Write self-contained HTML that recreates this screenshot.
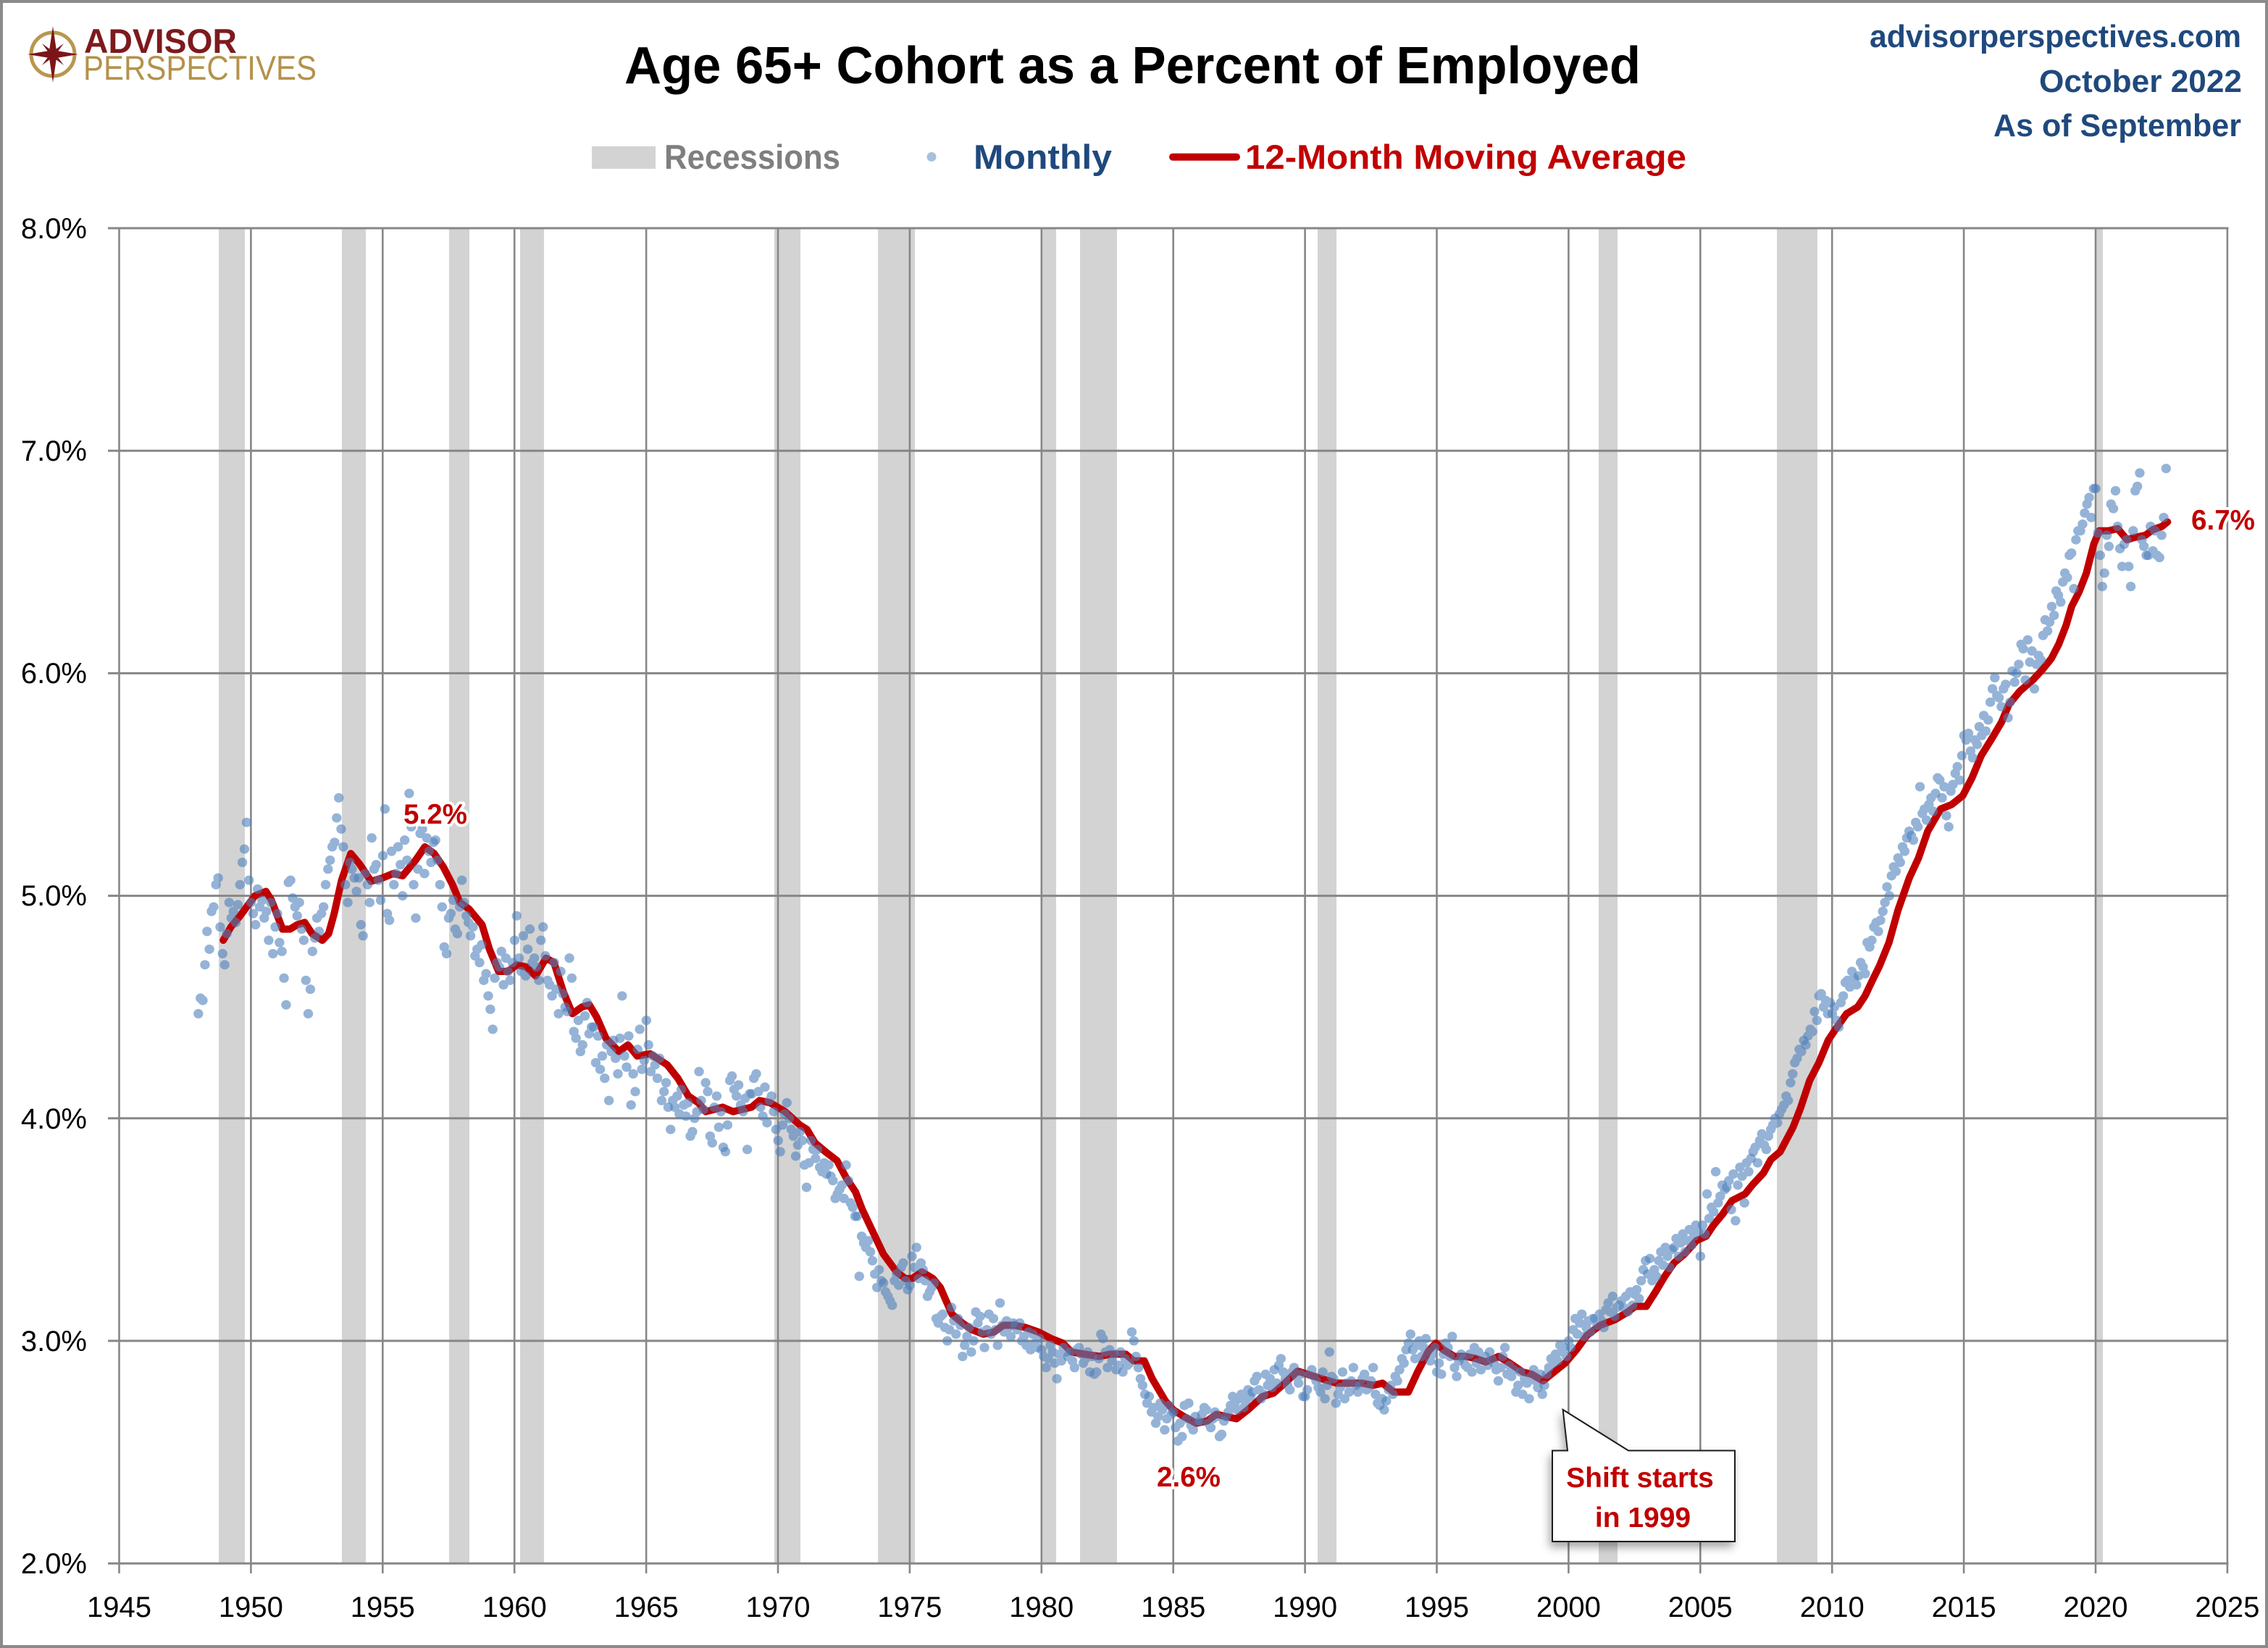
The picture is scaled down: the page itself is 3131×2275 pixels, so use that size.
<!DOCTYPE html>
<html>
<head>
<meta charset="utf-8">
<style>
  html, body { margin: 0; padding: 0; background: #ffffff; }
  svg { display: block; }
  text { font-family: "Liberation Sans", "DejaVu Sans", sans-serif; }
  .d { fill: none; stroke: #4f81bd; stroke-opacity: 0.6; stroke-width: 13; stroke-linecap: round; vector-effect: non-scaling-stroke; }
</style>
</head>
<body>
<svg width="3131" height="2275" viewBox="0 0 3131 2275">
  <defs>
    <filter id="shadow" x="-20%" y="-20%" width="140%" height="150%">
      <feDropShadow dx="-3" dy="7" stdDeviation="6" flood-color="#000" flood-opacity="0.35"/>
    </filter>
  </defs>

  <rect x="0" y="0" width="3131" height="2275" fill="#ffffff"/>
  <rect x="2" y="2" width="3127" height="2271" fill="none" stroke="#8a8a8a" stroke-width="4"/>

  <!-- logo -->
  <g>
    <circle cx="73" cy="75" r="30" fill="none" stroke="#b8974e" stroke-width="5"/>
    <polygon points="73,36 78,70 108,75 78,80 73,114 68,80 38,75 68,70" fill="#7b1518"/>
    <polygon points="88,60 77,75 88,90 73,79 58,90 69,75 58,60 73,71" fill="#7b1518"/>
    <circle cx="73" cy="75" r="4" fill="#7b1518"/>
    <text x="116" y="73" font-size="47" font-weight="bold" fill="#7d1a1d" textLength="211" lengthAdjust="spacingAndGlyphs">ADVISOR</text>
    <text x="115" y="110" font-size="47" fill="#b4924b" textLength="322" lengthAdjust="spacingAndGlyphs">PERSPECTIVES</text>
  </g>

  <text x="862" y="115" font-size="72" font-weight="bold" fill="#000000" textLength="1403" lengthAdjust="spacingAndGlyphs">Age 65+ Cohort as a Percent of Employed</text>

  <text x="2581" y="65" font-size="44" font-weight="bold" fill="#1f497d" textLength="513" lengthAdjust="spacingAndGlyphs">advisorperspectives.com</text>
  <text x="2815" y="127" font-size="44" font-weight="bold" fill="#1f497d" textLength="280" lengthAdjust="spacingAndGlyphs">October 2022</text>
  <text x="2752" y="188" font-size="44" font-weight="bold" fill="#1f497d" textLength="342" lengthAdjust="spacingAndGlyphs">As of September</text>

  <!-- legend -->
  <rect x="817" y="202" width="88" height="31" fill="#d3d3d3"/>
  <text x="917" y="233" font-size="47" font-weight="bold" fill="#7f7f7f" textLength="243" lengthAdjust="spacingAndGlyphs">Recessions</text>
  <circle cx="1286" cy="216.5" r="6.5" fill="#4f81bd" fill-opacity="0.5"/>
  <text x="1344" y="233" font-size="47" font-weight="bold" fill="#1f497d" textLength="191" lengthAdjust="spacingAndGlyphs">Monthly</text>
  <line x1="1619" y1="216.7" x2="1707" y2="216.7" stroke="#c00000" stroke-width="10" stroke-linecap="round"/>
  <text x="1719" y="233" font-size="47" font-weight="bold" fill="#c00000" textLength="609" lengthAdjust="spacingAndGlyphs">12-Month Moving Average</text>

  <!-- recession bands -->
  <g fill="#d3d3d3">
    <rect x="302" y="315" width="36" height="1843"/>
    <rect x="472" y="315" width="33" height="1843"/>
    <rect x="620" y="315" width="28" height="1843"/>
    <rect x="718" y="315" width="33" height="1843"/>
    <rect x="1069" y="315" width="36" height="1843"/>
    <rect x="1212" y="315" width="51" height="1843"/>
    <rect x="1437.7" y="315" width="20.3" height="1843"/>
    <rect x="1491" y="315" width="51" height="1843"/>
    <rect x="1819" y="315" width="26" height="1843"/>
    <rect x="2207" y="315" width="26" height="1843"/>
    <rect x="2453" y="315" width="56" height="1843"/>
    <rect x="2894" y="315" width="9" height="1843"/>
  </g>

  <!-- gridlines -->
  <g stroke="#878787" stroke-width="3">
    <line x1="149" y1="315" x2="3076.5" y2="315"/>
    <line x1="149" y1="622.2" x2="3076.5" y2="622.2"/>
    <line x1="149" y1="929.4" x2="3076.5" y2="929.4"/>
    <line x1="149" y1="1236.6" x2="3076.5" y2="1236.6"/>
    <line x1="149" y1="1543.8" x2="3076.5" y2="1543.8"/>
    <line x1="149" y1="1851" x2="3076.5" y2="1851"/>
    <line x1="149" y1="2158.2" x2="3076.5" y2="2158.2"/>
  </g>
  <g stroke="#878787" stroke-width="2.6">
    <line x1="164.5" y1="315" x2="164.5" y2="2172"/>
    <line x1="346.4" y1="315" x2="346.4" y2="2172"/>
    <line x1="528.3" y1="315" x2="528.3" y2="2172"/>
    <line x1="710.2" y1="315" x2="710.2" y2="2172"/>
    <line x1="892.1" y1="315" x2="892.1" y2="2172"/>
    <line x1="1074" y1="315" x2="1074" y2="2172"/>
    <line x1="1255.9" y1="315" x2="1255.9" y2="2172"/>
    <line x1="1437.8" y1="315" x2="1437.8" y2="2172"/>
    <line x1="1619.7" y1="315" x2="1619.7" y2="2172"/>
    <line x1="1801.6" y1="315" x2="1801.6" y2="2172"/>
    <line x1="1983.5" y1="315" x2="1983.5" y2="2172"/>
    <line x1="2165.4" y1="315" x2="2165.4" y2="2172"/>
    <line x1="2347.3" y1="315" x2="2347.3" y2="2172"/>
    <line x1="2529.2" y1="315" x2="2529.2" y2="2172"/>
    <line x1="2711.1" y1="315" x2="2711.1" y2="2172"/>
    <line x1="2893" y1="315" x2="2893" y2="2172"/>
    <line x1="3074.9" y1="315" x2="3074.9" y2="2172"/>
  </g>

  <g font-size="40" fill="#000000" text-anchor="end">
    <text x="120" y="329">8.0%</text>
    <text x="120" y="636">7.0%</text>
    <text x="120" y="943">6.0%</text>
    <text x="120" y="1250">5.0%</text>
    <text x="120" y="1558">4.0%</text>
    <text x="120" y="1865">3.0%</text>
    <text x="120" y="2172">2.0%</text>
  </g>

  <g font-size="40" fill="#000000" text-anchor="middle">
    <text x="164.5" y="2232">1945</text>
    <text x="346.4" y="2232">1950</text>
    <text x="528.3" y="2232">1955</text>
    <text x="710.2" y="2232">1960</text>
    <text x="892.1" y="2232">1965</text>
    <text x="1074" y="2232">1970</text>
    <text x="1255.9" y="2232">1975</text>
    <text x="1437.8" y="2232">1980</text>
    <text x="1619.7" y="2232">1985</text>
    <text x="1801.6" y="2232">1990</text>
    <text x="1983.5" y="2232">1995</text>
    <text x="2165.4" y="2232">2000</text>
    <text x="2347.3" y="2232">2005</text>
    <text x="2529.2" y="2232">2010</text>
    <text x="2711.1" y="2232">2015</text>
    <text x="2893" y="2232">2020</text>
    <text x="3074.9" y="2232">2025</text>
  </g>

  <!-- data group: x = year, y = percent -->
  <g transform="matrix(36.38 0 0 -307.2 -70594.6 2772.6)">
    <polyline fill="none" stroke="#c00000" stroke-width="10" stroke-linejoin="round" stroke-linecap="round" vector-effect="non-scaling-stroke"
      points="1948.95,4.80 1949.24,4.86 1949.59,4.91 1950.15,5.00 1950.57,5.02 1950.78,4.98 1951.2,4.85 1951.48,4.85 1951.76,4.87 1952.04,4.88 1952.32,4.83 1952.71,4.80 1952.95,4.83 1953.16,4.92 1953.44,5.07 1953.79,5.19 1954.14,5.14 1954.56,5.065 1954.99,5.08 1955.4,5.10 1955.76,5.09 1956.25,5.16 1956.6,5.22 1956.95,5.19 1957.3,5.13 1957.65,5.05 1957.93,4.97 1958.28,4.94 1958.77,4.87 1959.05,4.76 1959.4,4.66 1959.75,4.66 1960.1,4.69 1960.45,4.68 1960.8,4.64 1961.2,4.72 1961.5,4.70 1961.85,4.57 1962.2,4.47 1962.56,4.50 1962.84,4.51 1963.12,4.455 1963.47,4.36 1963.96,4.30 1964.31,4.33 1964.66,4.28 1965.15,4.29 1965.8,4.24 1966.2,4.18 1966.6,4.10 1966.98,4.07 1967.26,4.03 1967.9,4.05 1968.3,4.03 1969.0,4.05 1969.3,4.08 1969.7,4.07 1970.27,4.03 1970.83,3.97 1971.1,3.95 1971.4,3.89 1971.8,3.85 1972.24,3.81 1972.6,3.73 1972.94,3.67 1973.2,3.59 1973.6,3.49 1974.0,3.39 1974.5,3.31 1974.83,3.28 1975.1,3.28 1975.46,3.31 1975.88,3.28 1976.16,3.24 1976.6,3.12 1977.0,3.08 1977.36,3.05 1977.8,3.03 1978.2,3.04 1978.55,3.07 1978.97,3.07 1979.4,3.06 1979.88,3.04 1980.37,3.01 1980.8,2.99 1981.14,2.95 1981.63,2.94 1982.2,2.93 1982.6,2.94 1983.2,2.94 1983.5,2.91 1983.9,2.91 1984.2,2.83 1984.7,2.73 1985.0,2.69 1985.4,2.66 1985.87,2.63 1986.29,2.64 1986.64,2.67 1986.99,2.66 1987.4,2.65 1987.83,2.69 1988.39,2.75 1988.8,2.765 1989.23,2.81 1989.72,2.864 1990.2,2.846 1990.63,2.83 1991.19,2.81 1991.75,2.81 1992.17,2.81 1992.59,2.80 1992.94,2.81 1993.36,2.77 1993.92,2.77 1994.27,2.86 1994.69,2.955 1994.97,2.99 1995.25,2.96 1995.67,2.93 1996.1,2.93 1996.5,2.92 1996.86,2.905 1997.35,2.93 1997.77,2.90 1998.26,2.86 1998.6,2.85 1999.03,2.82 1999.45,2.86 1999.87,2.90 2000.3,2.96 2000.7,3.025 2001.2,3.07 2001.76,3.095 2002.25,3.13 2002.53,3.155 2002.95,3.155 2003.3,3.22 2003.65,3.29 2004.0,3.35 2004.4,3.39 2004.85,3.45 2005.22,3.47 2005.5,3.52 2005.85,3.57 2006.2,3.63 2006.7,3.66 2006.97,3.70 2007.4,3.755 2007.68,3.815 2008.03,3.85 2008.52,3.96 2008.8,4.045 2009.15,4.17 2009.5,4.25 2009.85,4.35 2010.13,4.40 2010.55,4.47 2010.97,4.50 2011.25,4.55 2011.53,4.62 2011.8,4.685 2012.16,4.79 2012.5,4.935 2012.93,5.08 2013.28,5.17 2013.63,5.29 2014.12,5.39 2014.54,5.41 2014.96,5.45 2015.31,5.53 2015.66,5.63 2016.08,5.71 2016.43,5.78 2016.71,5.86 2017.13,5.92 2017.62,5.97 2017.97,6.015 2018.32,6.066 2018.6,6.13 2018.88,6.215 2019.09,6.30 2019.37,6.365 2019.65,6.45 2019.93,6.58 2020.14,6.64 2020.49,6.64 2020.84,6.65 2021.19,6.60 2021.47,6.61 2021.89,6.62 2022.17,6.645 2022.52,6.66 2022.73,6.68"/>

    <!-- monthly dots -->
    <path class="d" transform="translate(1948)" d="M0 4.47h.01M.08 4.54h.01M.17 4.53h.01M.25 4.69h.01M.33 4.84h.01M.42 4.76h.01M.5 4.93h.01M.58 4.95h.01M.67 5.05h.01M.75 5.08h.01M.83 4.86h.01M.92 4.74h.01"/>
    <path class="d" transform="translate(1949)" d="M0 4.69h.01M.08 4.83h.01M.17 4.97h.01M.25 4.90h.01M.33 4.93h.01M.42 4.88h.01M.5 4.96h.01M.58 5.05h.01M.67 5.15h.01M.75 5.21h.01M.83 5.33h.01M.92 5.07h.01"/>
    <path class="d" transform="translate(1950)" d="M0 4.97h.01M.08 4.92h.01M.17 4.87h.01M.25 5.03h.01M.33 4.95h.01M.42 4.98h.01M.5 4.90h.01M.58 4.93h.01M.67 4.80h.01M.75 4.97h.01M.83 4.74h.01M.92 4.86h.01"/>
    <path class="d" transform="translate(1951)" d="M0 4.92h.01M.08 4.79h.01M.17 4.75h.01M.25 4.63h.01M.33 4.51h.01M.42 5.06h.01M.5 5.07h.01M.58 4.99h.01M.67 4.95h.01M.75 4.91h.01M.83 4.97h.01M.92 4.85h.01"/>
    <path class="d" transform="translate(1952)" d="M0 4.80h.01M.08 4.62h.01M.17 4.47h.01M.25 4.58h.01M.33 4.75h.01M.42 4.81h.01M.5 4.90h.01M.58 4.84h.01M.67 4.92h.01M.75 4.95h.01M.83 5.05h.01M.92 5.12h.01"/>
    <path class="d" transform="translate(1953)" d="M0 5.16h.01M.08 5.22h.01M.17 5.24h.01M.25 5.35h.01M.33 5.44h.01M.42 5.30h.01M.5 5.22h.01M.58 5.05h.01M.67 4.97h.01M.75 5.15h.01M.83 5.12h.01M.92 5.08h.01"/>
    <path class="d" transform="translate(1954)" d="M0 5.02h.01M.08 5.08h.01M.17 4.87h.01M.25 4.82h.01M.33 5.10h.01M.42 5.05h.01M.5 4.97h.01M.58 5.26h.01M.67 5.12h.01M.75 5.14h.01M.83 5.07h.01M.92 4.98h.01"/>
    <path class="d" transform="translate(1955)" d="M0 5.18h.01M.08 5.39h.01M.17 4.92h.01M.25 4.89h.01M.33 5.20h.01M.42 5.05h.01M.5 5.10h.01M.58 5.22h.01M.67 5.14h.01M.75 5.00h.01M.83 5.25h.01M.92 5.16h.01"/>
    <path class="d" transform="translate(1956)" d="M0 5.46h.01M.08 5.31h.01M.17 5.05h.01M.25 4.90h.01M.33 5.12h.01M.42 5.28h.01M.5 5.30h.01M.58 5.10h.01M.67 5.26h.01M.75 5.20h.01M.83 5.15h.01M.92 5.24h.01"/>
    <path class="d" transform="translate(1957)" d="M0 5.25h.01M.08 5.16h.01M.17 5.05h.01M.25 4.95h.01M.33 4.77h.01M.42 4.74h.01M.5 4.90h.01M.58 4.92h.01M.67 4.98h.01M.75 4.85h.01M.83 4.83h.01M.92 4.95h.01"/>
    <path class="d" transform="translate(1958)" d="M0 5.07h.01M.08 4.97h.01M.17 4.91h.01M.25 4.88h.01M.33 4.82h.01M.42 4.86h.01M.5 4.73h.01M.58 4.76h.01M.67 4.70h.01M.75 4.78h.01M.83 4.62h.01M.92 4.65h.01"/>
    <path class="d" transform="translate(1959)" d="M0 4.55h.01M.08 4.49h.01M.17 4.40h.01M.25 4.63h.01M.33 4.70h.01M.42 4.68h.01M.5 4.75h.01M.58 4.60h.01M.67 4.72h.01M.75 4.66h.01M.83 4.62h.01M.92 4.70h.01"/>
    <path class="d" transform="translate(1960)" d="M0 4.80h.01M.08 4.91h.01M.17 4.72h.01M.25 4.66h.01M.33 4.82h.01M.42 4.64h.01M.5 4.76h.01M.58 4.85h.01M.67 4.70h.01M.75 4.72h.01M.83 4.68h.01M.92 4.62h.01"/>
    <path class="d" transform="translate(1961)" d="M0 4.80h.01M.08 4.86h.01M.17 4.73h.01M.25 4.62h.01M.33 4.60h.01M.42 4.55h.01M.5 4.70h.01M.58 4.58h.01M.67 4.47h.01M.75 4.66h.01M.83 4.56h.01M.92 4.50h.01"/>
    <path class="d" transform="translate(1962)" d="M0 4.48h.01M.08 4.72h.01M.17 4.63h.01M.25 4.39h.01M.33 4.36h.01M.42 4.44h.01M.5 4.30h.01M.58 4.33h.01M.67 4.46h.01M.75 4.52h.01M.83 4.38h.01M.92 4.41h.01"/>
    <path class="d" transform="translate(1963)" d="M0 4.41h.01M.08 4.25h.01M.17 4.37h.01M.25 4.22h.01M.33 4.28h.01M.42 4.18h.01M.5 4.33h.01M.58 4.08h.01M.67 4.30h.01M.75 4.35h.01M.83 4.27h.01M.92 4.20h.01"/>
    <path class="d" transform="translate(1964)" d="M0 4.36h.01M.08 4.55h.01M.17 4.28h.01M.25 4.23h.01M.33 4.37h.01M.42 4.06h.01M.5 4.20h.01M.58 4.12h.01M.67 4.31h.01M.75 4.40h.01M.83 4.22h.01M.92 4.26h.01"/>
    <path class="d" transform="translate(1965)" d="M0 4.44h.01M.08 4.33h.01M.17 4.21h.01M.25 4.28h.01M.33 4.24h.01M.42 4.18h.01M.5 4.27h.01M.58 4.08h.01M.67 4.12h.01M.75 4.16h.01M.83 4.05h.01M.92 3.95h.01"/>
    <path class="d" transform="translate(1966)" d="M0 4.08h.01M.08 4.05h.01M.17 4.10h.01M.25 4.02h.01M.33 4.13h.01M.42 4.06h.01M.5 4.01h.01M.58 4.07h.01M.67 3.92h.01M.75 3.94h.01M.83 4.00h.01M.92 4.03h.01"/>
    <path class="d" transform="translate(1967)" d="M0 4.21h.01M.08 4.08h.01M.17 4.04h.01M.25 4.16h.01M.33 4.12h.01M.42 3.92h.01M.5 3.89h.01M.58 4.05h.01M.67 4.10h.01M.75 3.96h.01M.83 4.03h.01M.92 3.87h.01"/>
    <path class="d" transform="translate(1968)" d="M0 3.85h.01M.08 3.97h.01M.17 4.17h.01M.25 4.19h.01M.33 4.13h.01M.42 4.10h.01M.5 4.15h.01M.58 4.06h.01M.67 4.03h.01M.75 4.09h.01M.83 3.86h.01M.92 4.11h.01"/>
    <path class="d" transform="translate(1969)" d="M0 4.11h.01M.08 4.18h.01M.17 4.20h.01M.25 4.12h.01M.33 4.05h.01M.42 4.01h.01M.5 4.14h.01M.58 3.98h.01M.67 4.08h.01M.75 4.10h.01M.83 4.03h.01M.92 3.95h.01"/>
    <path class="d" transform="translate(1970)" d="M0 3.90h.01M.08 3.85h.01M.17 3.97h.01M.25 4.02h.01M.33 4.07h.01M.42 4.00h.01M.5 3.95h.01M.58 3.92h.01M.67 3.83h.01M.75 3.88h.01M.83 3.94h.01M.92 3.90h.01"/>
    <path class="d" transform="translate(1971)" d="M0 3.79h.01M.08 3.69h.01M.17 3.80h.01M.25 3.90h.01M.33 3.86h.01M.42 3.82h.01M.5 3.86h.01M.58 3.78h.01M.67 3.76h.01M.75 3.80h.01M.83 3.75h.01M.92 3.79h.01"/>
    <path class="d" transform="translate(1972)" d="M0 3.74h.01M.08 3.72h.01M.17 3.64h.01M.25 3.66h.01M.33 3.68h.01M.42 3.70h.01M.5 3.64h.01M.58 3.79h.01M.67 3.72h.01M.75 3.62h.01M.83 3.60h.01M.92 3.56h.01"/>
    <path class="d" transform="translate(1973)" d="M0 3.56h.01M.08 3.29h.01M.17 3.47h.01M.25 3.44h.01M.33 3.42h.01M.42 3.45h.01M.5 3.40h.01M.58 3.36h.01M.67 3.30h.01M.75 3.24h.01M.83 3.32h.01M.92 3.27h.01"/>
    <path class="d" transform="translate(1974)" d="M0 3.26h.01M.08 3.22h.01M.17 3.20h.01M.25 3.18h.01M.33 3.16h.01M.42 3.27h.01M.5 3.30h.01M.58 3.25h.01M.67 3.33h.01M.75 3.35h.01M.83 3.27h.01M.92 3.23h.01"/>
    <path class="d" transform="translate(1975)" d="M0 3.25h.01M.08 3.38h.01M.17 3.33h.01M.25 3.42h.01M.33 3.28h.01M.42 3.35h.01M.5 3.32h.01M.58 3.27h.01M.67 3.20h.01M.75 3.22h.01M.83 3.24h.01M.92 3.26h.01"/>
    <path class="d" transform="translate(1976)" d="M0 3.10h.01M.08 3.08h.01M.17 3.11h.01M.25 3.12h.01M.33 3.06h.01M.42 3.00h.01M.5 3.05h.01M.58 3.15h.01M.67 3.09h.01M.75 3.03h.01M.83 3.10h.01M.92 3.07h.01"/>
    <path class="d" transform="translate(1977)" d="M0 2.93h.01M.08 2.98h.01M.17 3.02h.01M.25 3.06h.01M.33 2.95h.01M.42 3.00h.01M.5 3.13h.01M.58 3.08h.01M.67 3.11h.01M.75 3.04h.01M.83 2.97h.01M.92 3.05h.01"/>
    <path class="d" transform="translate(1978)" d="M0 3.12h.01M.08 3.03h.01M.17 3.10h.01M.25 3.05h.01M.33 2.98h.01M.42 3.17h.01M.5 3.07h.01M.58 3.04h.01M.67 3.09h.01M.75 3.06h.01M.83 3.02h.01M.92 3.08h.01"/>
    <path class="d" transform="translate(1979)" d="M0 3.07h.01M.08 3.05h.01M.17 3.08h.01M.25 3.00h.01M.33 3.02h.01M.42 2.98h.01M.5 3.04h.01M.58 2.96h.01M.67 3.03h.01M.75 2.99h.01M.83 2.97h.01M.92 3.01h.01"/>
    <path class="d" transform="translate(1980)" d="M0 2.96h.01M.08 2.93h.01M.17 2.88h.01M.25 2.92h.01M.33 2.98h.01M.42 2.95h.01M.5 2.90h.01M.58 2.83h.01M.67 2.94h.01M.75 2.91h.01M.83 2.97h.01M.92 2.95h.01"/>
    <path class="d" transform="translate(1981)" d="M0 2.93h.01M.08 2.95h.01M.17 2.91h.01M.25 2.88h.01M.33 2.96h.01M.42 2.97h.01M.5 2.94h.01M.58 2.90h.01M.67 2.92h.01M.75 2.95h.01M.83 2.86h.01M.92 2.93h.01"/>
    <path class="d" transform="translate(1982)" d="M0 2.85h.01M.08 2.86h.01M.17 2.92h.01M.25 3.03h.01M.33 3.01h.01M.42 2.95h.01M.5 2.88h.01M.58 2.96h.01M.67 2.91h.01M.75 2.94h.01M.83 2.87h.01M.92 2.89h.01"/>
    <path class="d" transform="translate(1983)" d="M0 2.95h.01M.08 2.86h.01M.17 2.92h.01M.25 2.89h.01M.33 2.90h.01M.42 3.04h.01M.5 3.00h.01M.58 2.93h.01M.67 2.88h.01M.75 2.83h.01M.83 2.80h.01M.92 2.76h.01"/>
    <path class="d" transform="translate(1984)" d="M0 2.72h.01M.08 2.75h.01M.17 2.68h.01M.25 2.70h.01M.33 2.63h.01M.42 2.66h.01M.5 2.72h.01M.58 2.69h.01M.67 2.60h.01M.75 2.65h.01M.83 2.71h.01M.92 2.67h.01"/>
    <path class="d" transform="translate(1985)" d="M0 2.68h.01M.08 2.61h.01M.17 2.55h.01M.25 2.63h.01M.33 2.57h.01M.42 2.71h.01M.5 2.65h.01M.58 2.72h.01M.67 2.62h.01M.75 2.60h.01M.83 2.66h.01M.92 2.64h.01"/>
    <path class="d" transform="translate(1986)" d="M0 2.64h.01M.08 2.67h.01M.17 2.70h.01M.25 2.69h.01M.33 2.63h.01M.42 2.61h.01M.5 2.65h.01M.58 2.68h.01M.67 2.66h.01M.75 2.57h.01M.83 2.58h.01M.92 2.64h.01"/>
    <path class="d" transform="translate(1987)" d="M0 2.66h.01M.08 2.68h.01M.17 2.71h.01M.25 2.75h.01M.33 2.72h.01M.42 2.69h.01M.5 2.74h.01M.58 2.76h.01M.67 2.70h.01M.75 2.73h.01M.83 2.78h.01M.92 2.75h.01"/>
    <path class="d" transform="translate(1988)" d="M0 2.77h.01M.08 2.82h.01M.17 2.84h.01M.25 2.78h.01M.33 2.74h.01M.42 2.76h.01M.5 2.85h.01M.58 2.80h.01M.67 2.83h.01M.75 2.79h.01M.83 2.87h.01M.92 2.81h.01"/>
    <path class="d" transform="translate(1989)" d="M0 2.89h.01M.08 2.92h.01M.17 2.86h.01M.25 2.83h.01M.33 2.80h.01M.42 2.78h.01M.5 2.86h.01M.58 2.88h.01M.67 2.84h.01M.75 2.81h.01M.83 2.85h.01M.92 2.75h.01"/>
    <path class="d" transform="translate(1990)" d="M0 2.75h.01M.08 2.78h.01M.17 2.85h.01M.25 2.87h.01M.33 2.84h.01M.42 2.82h.01M.5 2.79h.01M.58 2.77h.01M.67 2.86h.01M.75 2.74h.01M.83 2.80h.01M.92 2.95h.01"/>
    <path class="d" transform="translate(1991)" d="M0 2.84h.01M.08 2.83h.01M.17 2.72h.01M.25 2.76h.01M.33 2.79h.01M.42 2.86h.01M.5 2.74h.01M.58 2.81h.01M.67 2.77h.01M.75 2.82h.01M.83 2.88h.01M.92 2.80h.01"/>
    <path class="d" transform="translate(1992)" d="M0 2.77h.01M.08 2.80h.01M.17 2.83h.01M.25 2.85h.01M.33 2.78h.01M.42 2.79h.01M.5 2.82h.01M.58 2.88h.01M.67 2.76h.01M.75 2.72h.01M.83 2.71h.01M.92 2.74h.01"/>
    <path class="d" transform="translate(1993)" d="M0 2.69h.01M.08 2.73h.01M.17 2.78h.01M.25 2.80h.01M.33 2.76h.01M.42 2.84h.01M.5 2.82h.01M.58 2.87h.01M.67 2.92h.01M.75 2.90h.01M.83 2.96h.01M.92 2.99h.01"/>
    <path class="d" transform="translate(1994)" d="M0 3.03h.01M.08 2.96h.01M.17 2.92h.01M.25 2.98h.01M.33 3.00h.01M.42 2.93h.01M.5 2.97h.01M.58 3.01h.01M.67 2.95h.01M.75 2.91h.01M.83 2.94h.01M.92 2.97h.01"/>
    <path class="d" transform="translate(1995)" d="M0 2.86h.01M.08 2.90h.01M.17 2.85h.01M.25 2.94h.01M.33 2.99h.01M.42 2.97h.01M.5 2.93h.01M.58 3.02h.01M.67 2.88h.01M.75 2.84h.01M.83 2.91h.01M.92 2.94h.01"/>
    <path class="d" transform="translate(1996)" d="M0 2.92h.01M.08 2.89h.01M.17 2.88h.01M.25 2.94h.01M.33 2.86h.01M.42 2.97h.01M.5 2.90h.01M.58 2.95h.01M.67 2.87h.01M.75 2.92h.01M.83 2.93h.01M.92 2.89h.01"/>
    <path class="d" transform="translate(1997)" d="M0 2.95h.01M.08 2.92h.01M.17 2.90h.01M.25 2.87h.01M.33 2.82h.01M.42 2.88h.01M.5 2.93h.01M.58 2.97h.01M.67 2.85h.01M.75 2.89h.01M.83 2.84h.01M.92 2.87h.01"/>
    <path class="d" transform="translate(1998)" d="M0 2.77h.01M.08 2.80h.01M.17 2.86h.01M.25 2.76h.01M.33 2.83h.01M.42 2.81h.01M.5 2.74h.01M.58 2.84h.01M.67 2.87h.01M.75 2.82h.01M.83 2.79h.01M.92 2.85h.01"/>
    <path class="d" transform="translate(1999)" d="M0 2.76h.01M.08 2.80h.01M.17 2.85h.01M.25 2.88h.01M.33 2.92h.01M.42 2.90h.01M.5 2.94h.01M.58 2.91h.01M.67 2.98h.01M.75 2.95h.01M.83 2.97h.01M.92 2.93h.01"/>
    <path class="d" transform="translate(2000)" d="M0 3.00h.01M.08 2.97h.01M.17 3.05h.01M.25 3.10h.01M.33 3.03h.01M.42 3.08h.01M.5 3.12h.01M.58 3.02h.01M.67 3.06h.01M.75 3.09h.01M.83 3.04h.01M.92 3.10h.01"/>
    <path class="d" transform="translate(2001)" d="M0 3.10h.01M.08 3.07h.01M.17 3.12h.01M.25 3.09h.01M.33 3.06h.01M.42 3.14h.01M.5 3.17h.01M.58 3.13h.01M.67 3.20h.01M.75 3.11h.01M.83 3.15h.01M.92 3.16h.01"/>
    <path class="d" transform="translate(2002)" d="M0 3.18h.01M.08 3.15h.01M.17 3.20h.01M.25 3.13h.01M.33 3.22h.01M.42 3.16h.01M.5 3.21h.01M.58 3.23h.01M.67 3.19h.01M.75 3.27h.01M.83 3.32h.01M.92 3.36h.01"/>
    <path class="d" transform="translate(2003)" d="M0 3.30h.01M.08 3.37h.01M.17 3.27h.01M.25 3.32h.01M.33 3.29h.01M.42 3.36h.01M.5 3.40h.01M.58 3.34h.01M.67 3.42h.01M.75 3.38h.01M.83 3.33h.01M.92 3.41h.01"/>
    <path class="d" transform="translate(2004)" d="M0 3.42h.01M.08 3.46h.01M.17 3.38h.01M.25 3.44h.01M.33 3.48h.01M.42 3.40h.01M.5 3.45h.01M.58 3.50h.01M.67 3.43h.01M.75 3.47h.01M.83 3.52h.01M.92 3.49h.01"/>
    <path class="d" transform="translate(2005)" d="M0 3.38h.01M.08 3.52h.01M.17 3.48h.01M.25 3.66h.01M.33 3.55h.01M.42 3.60h.01M.5 3.58h.01M.58 3.76h.01M.67 3.62h.01M.75 3.65h.01M.83 3.70h.01M.92 3.68h.01"/>
    <path class="d" transform="translate(2006)" d="M0 3.69h.01M.08 3.72h.01M.17 3.59h.01M.25 3.75h.01M.33 3.54h.01M.42 3.70h.01M.5 3.78h.01M.58 3.74h.01M.67 3.62h.01M.75 3.80h.01M.83 3.76h.01M.92 3.82h.01"/>
    <path class="d" transform="translate(2007)" d="M0 3.85h.01M.08 3.87h.01M.17 3.80h.01M.25 3.90h.01M.33 3.93h.01M.42 3.88h.01M.5 3.86h.01M.58 3.92h.01M.67 3.95h.01M.75 3.97h.01M.83 4.00h.01M.92 3.98h.01"/>
    <path class="d" transform="translate(2008)" d="M0 4.02h.01M.08 4.04h.01M.17 4.06h.01M.25 4.10h.01M.33 4.08h.01M.42 4.16h.01M.5 4.20h.01M.58 4.25h.01M.67 4.27h.01M.75 4.31h.01M.83 4.30h.01M.92 4.35h.01"/>
    <path class="d" transform="translate(2009)" d="M0 4.33h.01M.08 4.37h.01M.17 4.40h.01M.25 4.39h.01M.33 4.48h.01M.42 4.44h.01M.5 4.55h.01M.58 4.56h.01M.67 4.50h.01M.75 4.53h.01M.83 4.47h.01M.92 4.52h.01"/>
    <path class="d" transform="translate(2010)" d="M0 4.47h.01M.08 4.50h.01M.17 4.44h.01M.25 4.41h.01M.33 4.52h.01M.42 4.55h.01M.5 4.61h.01M.58 4.62h.01M.67 4.59h.01M.75 4.66h.01M.83 4.63h.01M.92 4.60h.01"/>
    <path class="d" transform="translate(2011)" d="M0 4.64h.01M.08 4.70h.01M.17 4.68h.01M.25 4.65h.01M.33 4.79h.01M.42 4.77h.01M.5 4.80h.01M.58 4.86h.01M.67 4.88h.01M.75 4.84h.01M.83 4.89h.01M.92 4.93h.01"/>
    <path class="d" transform="translate(2012)" d="M0 4.97h.01M.08 5.04h.01M.17 5.00h.01M.25 5.09h.01M.33 5.13h.01M.42 5.11h.01M.5 5.17h.01M.58 5.15h.01M.67 5.22h.01M.75 5.20h.01M.83 5.26h.01M.92 5.29h.01"/>
    <path class="d" transform="translate(2013)" d="M0 5.27h.01M.08 5.25h.01M.17 5.33h.01M.25 5.31h.01M.33 5.49h.01M.42 5.37h.01M.5 5.39h.01M.58 5.34h.01M.67 5.41h.01M.75 5.44h.01M.83 5.38h.01M.92 5.46h.01"/>
    <path class="d" transform="translate(2014)" d="M0 5.53h.01M.08 5.52h.01M.17 5.44h.01M.25 5.49h.01M.33 5.36h.01M.42 5.31h.01M.5 5.47h.01M.58 5.50h.01M.67 5.55h.01M.75 5.58h.01M.83 5.52h.01M.92 5.63h.01"/>
    <path class="d" transform="translate(2015)" d="M0 5.72h.01M.08 5.70h.01M.17 5.73h.01M.25 5.65h.01M.33 5.62h.01M.42 5.70h.01M.5 5.68h.01M.58 5.76h.01M.67 5.72h.01M.75 5.81h.01M.83 5.74h.01M.92 5.79h.01"/>
    <path class="d" transform="translate(2016)" d="M0 5.87h.01M.08 5.93h.01M.17 5.98h.01M.25 5.90h.01M.33 5.89h.01M.42 5.85h.01M.5 5.93h.01M.58 5.95h.01M.67 5.80h.01M.75 5.87h.01M.83 6.01h.01M.92 5.96h.01"/>
    <path class="d" transform="translate(2017)" d="M0 6.00h.01M.08 6.04h.01M.17 6.13h.01M.25 6.11h.01M.33 5.97h.01M.42 6.15h.01M.5 6.05h.01M.58 6.10h.01M.67 5.93h.01M.75 6.04h.01M.83 6.08h.01M.92 6.06h.01"/>
    <path class="d" transform="translate(2018)" d="M0 6.17h.01M.08 6.24h.01M.17 6.19h.01M.25 6.23h.01M.33 6.30h.01M.42 6.26h.01M.5 6.37h.01M.58 6.35h.01M.67 6.32h.01M.75 6.41h.01M.83 6.45h.01M.92 6.43h.01"/>
    <path class="d" transform="translate(2019)" d="M0 6.53h.01M.08 6.54h.01M.17 6.38h.01M.25 6.60h.01M.33 6.64h.01M.42 6.64h.01M.5 6.67h.01M.58 6.72h.01M.67 6.76h.01M.75 6.79h.01M.83 6.70h.01M.92 6.83h.01"/>
    <path class="d" transform="translate(2020)" d="M0 6.83h.01M.08 6.63h.01M.17 6.53h.01M.25 6.39h.01M.33 6.45h.01M.42 6.62h.01M.5 6.57h.01M.58 6.76h.01M.67 6.74h.01M.75 6.82h.01M.83 6.66h.01M.92 6.56h.01"/>
    <path class="d" transform="translate(2021)" d="M0 6.48h.01M.08 6.58h.01M.17 6.60h.01M.25 6.48h.01M.33 6.39h.01M.42 6.64h.01M.5 6.82h.01M.58 6.84h.01M.67 6.90h.01M.75 6.60h.01M.83 6.57h.01M.92 6.53h.01"/>
    <path class="d" transform="translate(2022)" d="M0 6.53h.01M.08 6.66h.01M.17 6.55h.01M.25 6.64h.01M.33 6.53h.01M.42 6.52h.01M.5 6.62h.01M.58 6.70h.01M.67 6.92h.01"/>
  </g>

  <!-- data labels -->
  <g font-size="39" font-weight="bold" fill="#c00000">
    <text x="557" y="1137" textLength="88" lengthAdjust="spacingAndGlyphs" stroke="#ffffff" stroke-width="8" stroke-linejoin="round" style="paint-order: stroke;">5.2%</text>
    <text x="1597" y="2052" textLength="88" lengthAdjust="spacingAndGlyphs" stroke="#ffffff" stroke-width="8" stroke-linejoin="round" style="paint-order: stroke;">2.6%</text>
    <text x="3025" y="731" textLength="88" lengthAdjust="spacingAndGlyphs" stroke="#ffffff" stroke-width="8" stroke-linejoin="round" style="paint-order: stroke;">6.7%</text>
  </g>

  <!-- callout -->
  <path d="M2143 2002.5 L2164 2002.5 L2157.6 1946 L2248 2002.5 L2395 2002.5 L2395 2128 L2143 2128 Z" fill="#ffffff" stroke="#1a1a1a" stroke-width="2" stroke-linejoin="miter" filter="url(#shadow)"/>
  <g font-size="39" font-weight="bold" fill="#c00000" text-anchor="middle">
    <text x="2264" y="2053">Shift starts</text>
    <text x="2268" y="2108">in 1999</text>
  </g>
</svg>
</body>
</html>
